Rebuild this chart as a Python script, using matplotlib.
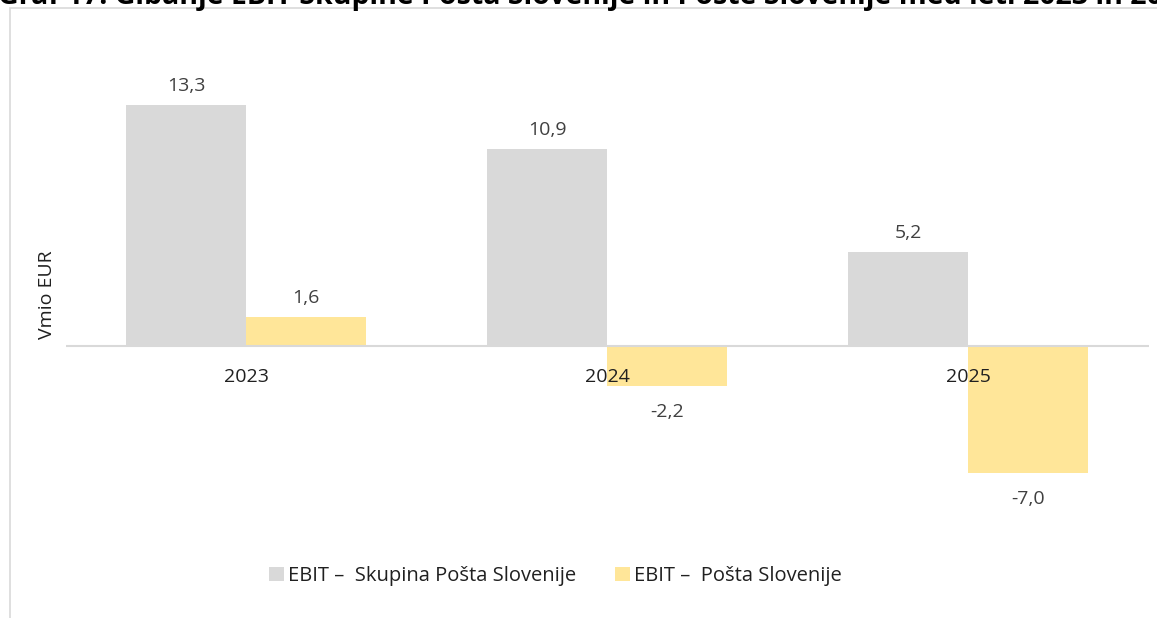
import matplotlib
matplotlib.use("Agg")
import matplotlib.pyplot as plt
import numpy as np
from matplotlib.patches import Rectangle

plt.rcParams['font.family'] = ['Open Sans', 'DejaVu Sans']

years = ['2023', '2024', '2025']
skupina = [13.3, 10.9, 5.2]
posta = [1.6, -2.2, -7.0]
series_names = ['EBIT –  Skupina Pošta Slovenije', 'EBIT –  Pošta Slovenije']
title = 'Graf 17: Gibanje EBIT Skupine Pošta Slovenije in Pošte Slovenije med leti 2023 in 2025'

c_gray = '#d9d9d9'
c_yellow = '#ffe699'
txt = '#404040'

fig = plt.figure(figsize=(11.57, 6.18), dpi=100)
ax = fig.add_axes([65.5 / 1157, 0.1586, 1083 / 1157, 0.7767])

x = np.arange(len(years))
w = 0.332
b1 = ax.bar(x - w / 2, skupina, w, color=c_gray, label=series_names[0])
b2 = ax.bar(x + w / 2, posta, w, color=c_yellow, label=series_names[1])

# data labels
for bars, vals in ((b1, skupina), (b2, posta)):
    for r, v in zip(bars, vals):
        lab = f'{v:.1f}'.replace('.', ',')
        off = 13.5 if v >= 0 else -19
        ax.annotate(lab, (r.get_x() + r.get_width() / 2, v), xytext=(0, off),
                    textcoords='offset points', ha='center', va='center',
                    fontsize=14, color=txt)

ax.axhline(0, color=c_gray, lw=1.5, zorder=3)
ax.set_xlim(-0.5, 2.5)
ax.set_ylim(-9.6, 16.9)
ax.set_yticks([])
ax.set_xticks([])
for s in ax.spines.values():
    s.set_visible(False)

# year labels just below the zero line
for xi, yr in zip(x, years):
    ax.annotate(yr, (xi, 0), xytext=(0, -22), textcoords='offset points',
                ha='center', va='center', fontsize=14, color='#202020')

fig.text(47.5 / 1157, 1 - 295 / 618, 'Vmio EUR', rotation=90, ha='center', va='center',
         fontsize=14, color='#202020')

fig.legend(handles=[b1, b2], loc='center', bbox_to_anchor=(555.5 / 1157, 1 - 576 / 618),
           ncol=2, frameon=False, fontsize=14.5, handlelength=0.75, handleheight=0.75,
           handletextpad=0.2, columnspacing=1.9, labelcolor='#202020')

# outer frame of the chart area
fig.patches.append(Rectangle((10 / 1157, -0.01), 1.0, 1 - 8 / 618 + 0.01,
                             transform=fig.transFigure, fill=False,
                             edgecolor=c_gray, lw=1.2))

# title is cut off at the top edge, as in the source
fig.text(-2 / 1157, 1 - 4 / 618, title, ha='left', va='baseline',
         fontsize=20.5, fontweight='bold', color='black')

fig.savefig('out.png', dpi=100)
